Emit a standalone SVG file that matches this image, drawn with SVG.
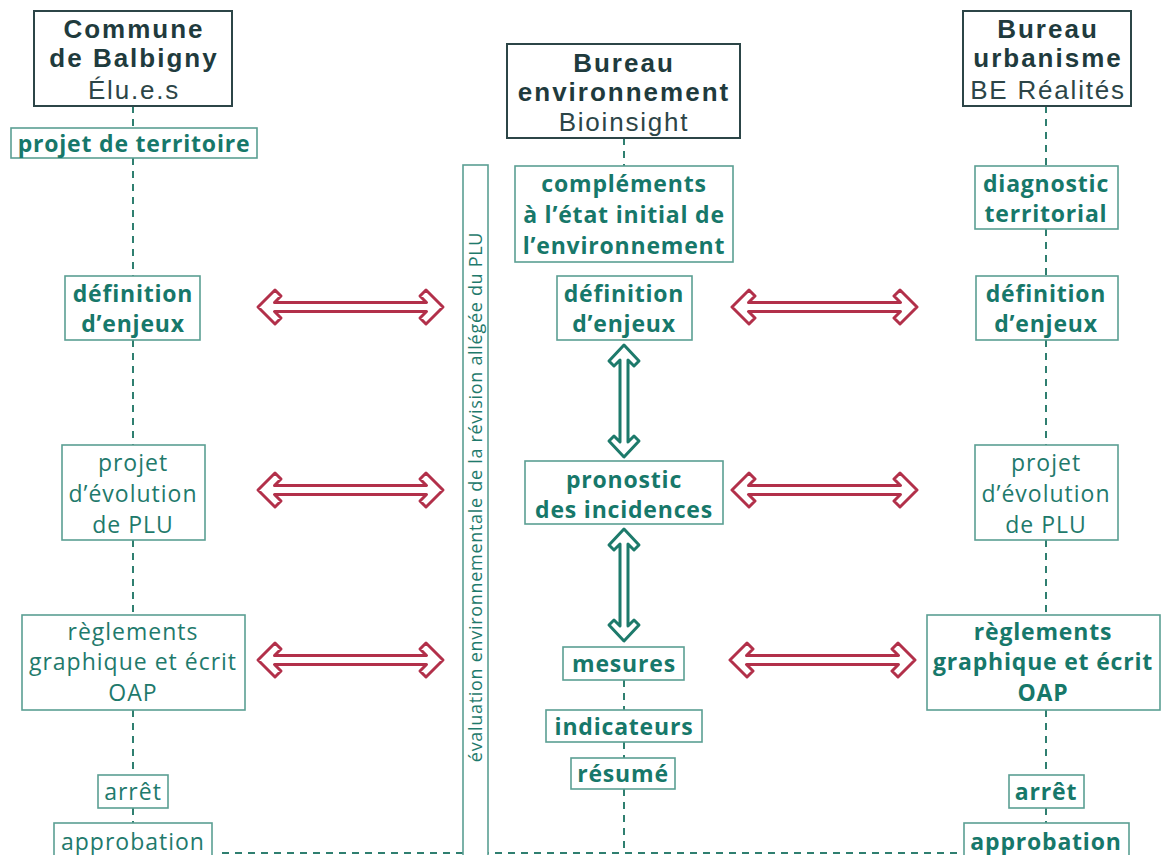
<svg xmlns="http://www.w3.org/2000/svg" xmlns:xlink="http://www.w3.org/1999/xlink" width="1163" height="855" viewBox="0 0 1163 855">
<style>
.hbox{fill:#fff;stroke:#2c4547;stroke-width:2}
.box{fill:#fff;stroke:#5b9f93;stroke-width:1.6}
.ht{font-family:"Liberation Sans","Open Sans",sans-serif;font-weight:700;font-size:26px;letter-spacing:2px;fill:#1f3b3d;text-anchor:middle}
.hs{font-family:"Liberation Sans","Open Sans",sans-serif;font-weight:400;font-size:26px;letter-spacing:1.8px;fill:#2c4547;text-anchor:middle}
.tb{font-family:"Open Sans","Liberation Sans",sans-serif;font-weight:700;font-size:23px;letter-spacing:0.8px;fill:#17786a;text-anchor:middle}
.tr{font-family:"Open Sans","Liberation Sans",sans-serif;font-weight:400;font-size:23px;letter-spacing:1px;fill:#1f7a6c;text-anchor:middle}
.vt{font-family:"Open Sans","Liberation Sans",sans-serif;font-weight:400;font-size:18px;letter-spacing:0.7px;fill:#1f7a6c;text-anchor:middle}
.dash{stroke:#2f7f70;stroke-width:2;stroke-dasharray:7 6;fill:none}
.ra{fill:#fff;stroke:#b2304a;stroke-width:3;stroke-linejoin:round}
.ga{fill:#fff;stroke:#1d7a6b;stroke-width:3;stroke-linejoin:round}
</style>
<defs>
<path id="harrow" d="M16.5,-4.5 L23,-11 L17,-17 L0,0 L17,17 L23,11 L16.5,4.5 L168.5,4.5 L162,11 L168,17 L185,0 L168,-17 L162,-11 L168.5,-4.5 Z"/>
<path id="varrow" d="M-4,15 L-10,21 L-15,16 L0,0 L15,16 L10,21 L4,15 L4,97 L10,91 L15,96 L0,112 L-15,96 L-10,91 L-4,97 Z"/>
</defs>
<rect width="1163" height="855" fill="#fff"/>
<g id="connectors">
<line class="dash" x1="133" y1="106" x2="133" y2="128"/>
<line class="dash" x1="133" y1="158" x2="133" y2="276"/>
<line class="dash" x1="133" y1="340" x2="133" y2="445"/>
<line class="dash" x1="133" y1="540" x2="133" y2="615"/>
<line class="dash" x1="133" y1="710" x2="133" y2="775"/>
<line class="dash" x1="133" y1="808" x2="133" y2="823"/>
<line class="dash" x1="1046" y1="106" x2="1046" y2="166"/>
<line class="dash" x1="1046" y1="229" x2="1046" y2="276"/>
<line class="dash" x1="1046" y1="340" x2="1046" y2="445"/>
<line class="dash" x1="1046" y1="540" x2="1046" y2="615"/>
<line class="dash" x1="1046" y1="710" x2="1046" y2="775"/>
<line class="dash" x1="1046" y1="808" x2="1046" y2="823"/>
<line class="dash" x1="624" y1="138" x2="624" y2="166"/>
<line class="dash" x1="624" y1="680" x2="624" y2="710"/>
<line class="dash" x1="624" y1="742" x2="624" y2="758"/>
<line class="dash" x1="624" y1="789" x2="624" y2="853"/>
<line class="dash" x1="222" y1="853" x2="962" y2="853"/>
<use xlink:href="#harrow" class="ra" transform="translate(258,307)"/>
<use xlink:href="#harrow" class="ra" transform="translate(732,307)"/>
<use xlink:href="#harrow" class="ra" transform="translate(258,490)"/>
<use xlink:href="#harrow" class="ra" transform="translate(732,490)"/>
<use xlink:href="#harrow" class="ra" transform="translate(258,660)"/>
<use xlink:href="#harrow" class="ra" transform="translate(730,660)"/>
<use xlink:href="#varrow" class="ga" transform="translate(624,345)"/>
<use xlink:href="#varrow" class="ga" transform="translate(624,529)"/>
</g>
<g id="side-label">
<rect class="box" x="463" y="165" width="25" height="700"/>
<text class="vt" transform="translate(482,497) rotate(-90)">évaluation environnementale de la révision allégée du PLU</text>
</g>
<g id="h-commune">
<rect class="hbox" x="34" y="11" width="198" height="95"/>
<text class="ht" x="134" y="38">Commune</text>
<text class="ht" x="134" y="67">de Balbigny</text>
<text class="hs" x="134" y="99">Élu.e.s</text>
</g>
<g id="h-env">
<rect class="hbox" x="507" y="44" width="233" height="94"/>
<text class="ht" x="624" y="72">Bureau</text>
<text class="ht" x="624" y="101">environnement</text>
<text class="hs" x="624" y="131">Bioinsight</text>
</g>
<g id="h-urba">
<rect class="hbox" x="963" y="11" width="168" height="95"/>
<text class="ht" x="1048" y="38">Bureau</text>
<text class="ht" x="1048" y="67">urbanisme</text>
<text class="hs" x="1048" y="99">BE Réalités</text>
</g>
<g id="l-projet-territoire">
<rect class="box" x="11" y="128" width="246" height="30"/>
<text class="tb" x="134" y="152">projet de territoire</text>
</g>
<g id="l-definition">
<rect class="box" x="65" y="276" width="135" height="64"/>
<text class="tb" x="133" y="302">définition</text>
<text class="tb" x="133" y="332">d’enjeux</text>
</g>
<g id="l-projet-evolution">
<rect class="box" x="62" y="445" width="143" height="95"/>
<text class="tr" x="133" y="471">projet</text>
<text class="tr" x="133" y="502">d’évolution</text>
<text class="tr" x="133" y="533">de PLU</text>
</g>
<g id="l-reglements">
<rect class="box" x="22" y="615" width="223" height="95"/>
<text class="tr" x="133" y="640">règlements</text>
<text class="tr" x="133" y="670">graphique et écrit</text>
<text class="tr" x="133" y="701">OAP</text>
</g>
<g id="l-arret">
<rect class="box" x="98" y="775" width="70" height="33"/>
<text class="tr" x="133" y="800">arrêt</text>
</g>
<g id="l-approbation">
<rect class="box" x="54" y="823" width="158" height="40"/>
<text class="tr" x="133" y="850">approbation</text>
</g>
<g id="c-complements">
<rect class="box" x="515" y="166" width="218" height="96"/>
<text class="tb" x="624" y="192">compléments</text>
<text class="tb" x="624" y="223">à l’état initial de</text>
<text class="tb" x="624" y="254">l’environnement</text>
</g>
<g id="c-definition">
<rect class="box" x="557" y="276" width="135" height="64"/>
<text class="tb" x="624" y="302">définition</text>
<text class="tb" x="624" y="332">d’enjeux</text>
</g>
<g id="c-pronostic">
<rect class="box" x="525" y="461" width="198" height="63"/>
<text class="tb" x="624" y="488">pronostic</text>
<text class="tb" x="624" y="518">des incidences</text>
</g>
<g id="c-mesures">
<rect class="box" x="563" y="647" width="121" height="33"/>
<text class="tb" x="624" y="672">mesures</text>
</g>
<g id="c-indicateurs">
<rect class="box" x="546" y="710" width="156" height="32"/>
<text class="tb" x="624" y="735">indicateurs</text>
</g>
<g id="c-resume">
<rect class="box" x="571" y="758" width="104" height="31"/>
<text class="tb" x="623" y="782">résumé</text>
</g>
<g id="r-diagnostic">
<rect class="box" x="975" y="166" width="143" height="63"/>
<text class="tb" x="1046" y="192">diagnostic</text>
<text class="tb" x="1046" y="222">territorial</text>
</g>
<g id="r-definition">
<rect class="box" x="976" y="276" width="142" height="64"/>
<text class="tb" x="1046" y="302">définition</text>
<text class="tb" x="1046" y="332">d’enjeux</text>
</g>
<g id="r-projet-evolution">
<rect class="box" x="975" y="445" width="143" height="95"/>
<text class="tr" x="1046" y="471">projet</text>
<text class="tr" x="1046" y="502">d’évolution</text>
<text class="tr" x="1046" y="533">de PLU</text>
</g>
<g id="r-reglements">
<rect class="box" x="927" y="615" width="233" height="95"/>
<text class="tb" x="1043" y="640">règlements</text>
<text class="tb" x="1043" y="670">graphique et écrit</text>
<text class="tb" x="1043" y="701">OAP</text>
</g>
<g id="r-arret">
<rect class="box" x="1009" y="775" width="75" height="33"/>
<text class="tb" x="1046" y="800">arrêt</text>
</g>
<g id="r-approbation">
<rect class="box" x="964" y="823" width="165" height="40"/>
<text class="tb" x="1046" y="850">approbation</text>
</g>
</svg>
